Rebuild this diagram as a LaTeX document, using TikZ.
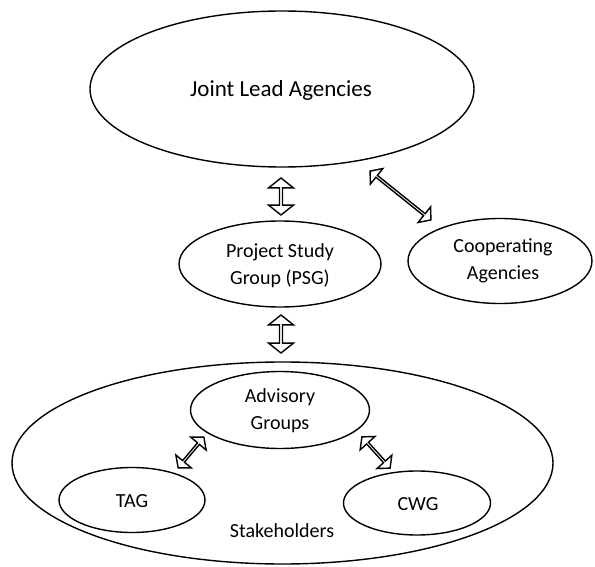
\documentclass[tikz,border=0pt]{standalone}
\usepackage{fontspec}
\setmainfont{Carlito}
\usetikzlibrary{shapes.geometric,shapes.arrows}
\begin{document}
\begin{tikzpicture}[x=1pt,y=-1pt,
  oval/.style={ellipse, draw, line width=1.4pt, inner sep=0pt},
  txt/.style={inner sep=0pt, align=center, font=\fontsize{20}{27}\selectfont},
  bigtxt/.style={inner sep=0pt, font=\fontsize{23}{28}\selectfont},
  blockarrow/.style={double arrow, draw, line width=1.4pt, fill=white, inner sep=0pt,
    minimum width=25pt, double arrow head extend=5pt, double arrow tip angle=103, sloped},
  slimarrow/.style={blockarrow, minimum width=20pt, double arrow head extend=5pt, double arrow tip angle=100}]
\useasboundingbox (0,0) rectangle (595,567);
\node[oval, minimum width=384pt, minimum height=156pt] (jla) at (282,89) {};
\node[oval, minimum width=202pt, minimum height=86pt] (psg) at (280,264) {};
\node[oval, minimum width=184pt, minimum height=85pt] (coop) at (500,261) {};
\node[oval, minimum width=541pt, minimum height=202pt] (stake) at (282.5,463) {};
\node[oval, minimum width=179pt, minimum height=77pt] (adv) at (280,410) {};
\node[oval, minimum width=146pt, minimum height=65pt] (tag) at (132,500) {};
\node[oval, minimum width=147pt, minimum height=64pt] (cwg) at (417,503) {};
\node[bigtxt] (jlat) at (281,90) {Joint Lead Agencies};
\node[txt] (psgt) at (280,266) {Project Study\\Group (PSG)};
\node[txt] (coopt) at (503,261) {Cooperating\\Agencies};
\node[txt] (advt) at (280,411) {Advisory\\Groups};
\node[txt] (tagt) at (132,501) {TAG};
\node[txt] (cwgt) at (418,504) {CWG};
\node[txt] (stl) at (282,531) {Stakeholders};
\coordinate (a1s) at (281,178);
\coordinate (a1e) at (281,215);
\coordinate (a2s) at (281,315);
\coordinate (a2e) at (281,353);
\coordinate (a3s) at (370,171);
\coordinate (a3e) at (431,220);
\coordinate (a4s) at (204,437);
\coordinate (a4e) at (178,468);
\coordinate (a5s) at (362,437);
\coordinate (a5e) at (390,468);
\path (a1s) -- (a1e) node[blockarrow, midway, minimum height=37pt] (arr1) {};
\path (a2s) -- (a2e) node[blockarrow, midway, minimum height=38pt] (arr2) {};
\path (a3s) -- (a3e) node[slimarrow, midway, minimum height=78pt] (arr3) {};
\path (a4s) -- (a4e) node[slimarrow, midway, minimum height=40pt] (arr4) {};
\path (a5s) -- (a5e) node[slimarrow, midway, minimum height=42pt] (arr5) {};
\end{tikzpicture}
\end{document}
